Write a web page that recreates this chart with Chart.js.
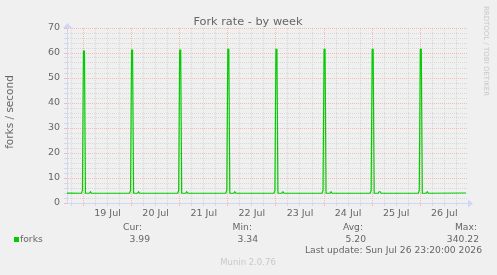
<!DOCTYPE html>
<html>
<head>
<meta charset="utf-8">
<script src="https://cdn.jsdelivr.net/npm/chart.js@4/dist/chart.umd.min.js"></script>
<style>
html,body{margin:0;padding:0;background:#f0f0f0;}
#wrap{width:497px;height:275px;position:relative;}
</style>
</head>
<body>
<div id="wrap"><canvas id="c" width="497" height="275"></canvas></div>
<script>
// Hours relative to 19 Jul 00:00
const hours = [
  -8.2,
  -1, -0.5, 0, 0.5, 1, 3, 3.5, 4,
  23, 23.5, 24, 24.5, 25, 27, 27.5, 28,
  47, 47.5, 48, 48.5, 49, 51, 51.5, 52,
  71, 71.5, 72, 72.5, 73, 75, 75.5, 76,
  95, 95.5, 96, 96.5, 97, 99, 99.5, 100,
  119, 119.5, 120, 120.5, 121, 123, 123.5, 124,
  143, 143.5, 144, 144.5, 145, 147, 147.5, 148, 148.5,
  167, 167.5, 168, 168.5, 169, 171, 171.5, 172,
  190.8
];
const forks = [
  3.95,
  3.9, 5.0, 60.8, 60.8, 3.9, 3.9, 4.5, 3.9,
  3.9, 5.0, 61.2, 61.2, 3.9, 3.9, 4.5, 3.9,
  3.9, 5.0, 61.2, 61.2, 3.9, 3.9, 4.5, 3.9,
  3.9, 5.0, 61.5, 61.5, 3.9, 3.9, 4.5, 3.9,
  3.9, 5.0, 61.5, 61.5, 3.9, 3.9, 4.5, 3.9,
  3.9, 5.0, 61.5, 61.5, 3.9, 3.9, 4.5, 3.9,
  3.9, 5.0, 61.5, 61.5, 3.9, 3.9, 4.5, 4.5, 3.9,
  3.9, 5.0, 61.5, 61.5, 3.9, 3.9, 4.5, 3.9,
  3.99
];
const dayLabels = ['19 Jul','20 Jul','21 Jul','22 Jul','23 Jul','24 Jul','25 Jul','26 Jul'];
const xTickHours = [-6,0,6,12,18,24,30,36,42,48,54,60,66,72,78,84,90,96,102,108,114,120,126,132,138,144,150,156,162,168,174,180,186];
const yTicks = [0,2,4,6,8,10,12,14,16,18,20,22,24,26,28,30,32,34,36,38,40,42,44,46,48,50,52,54,56,58,60,62,64,66,68,70];
const statNames = ['Cur:','Min:','Avg:','Max:'];
const statValues = ['3.99','3.34','5.20','340.22'];
const seriesName = 'forks';
const titleText = 'Fork rate - by week';
const yTitle = 'forks / second';
const lastUpdate = 'Last update: Sun Jul 26 23:20:00 2026';
const footer = 'Munin 2.0.76';
const watermark = 'RRDTOOL / TOBI OETIKER';

const FONT = '"DejaVu Sans", sans-serif';
const MINOR = 'rgba(192,192,192,0.5)';
const MAJOR = 'rgba(255,128,128,0.5)';
const AXIS = '#cfd6f8';

const deco = {
  id: 'deco',
  afterDraw(chart) {
    const ctx = chart.ctx;
    const a = chart.chartArea;
    ctx.save();
    // arrows
    ctx.fillStyle = AXIS;
    ctx.beginPath();
    ctx.moveTo(a.right, a.bottom - 3.5);
    ctx.lineTo(a.right + 5, a.bottom + 0.5);
    ctx.lineTo(a.right, a.bottom + 4.5);
    ctx.closePath(); ctx.fill();
    ctx.beginPath();
    ctx.moveTo(a.left - 4, a.top);
    ctx.lineTo(a.left + 0.5, a.top - 5);
    ctx.lineTo(a.left + 5, a.top);
    ctx.closePath(); ctx.fill();

    ctx.fillStyle = '#666666';
    ctx.textBaseline = 'middle';
    ctx.font = '11.3px ' + FONT;
    ctx.textAlign = 'center';
    ctx.fillText(titleText, 248, 22);

    ctx.save();
    ctx.translate(10, 112);
    ctx.rotate(-Math.PI / 2);
    ctx.font = '10.5px ' + FONT;
    ctx.fillText(yTitle, 0, 0);
    ctx.restore();

    // legend
    ctx.fillStyle = '#00cc00';
    ctx.fillRect(14, 237, 5, 5);
    ctx.fillStyle = '#666666';
    ctx.font = '9.2px ' + FONT;
    ctx.textAlign = 'left';
    ctx.fillText(seriesName, 20, 239.5);
    const nameRight = [142, 252, 363, 477];
    const valRight = [150, 258, 366, 479];
    ctx.textAlign = 'right';
    for (let i = 0; i < statNames.length; i++) {
      ctx.fillText(statNames[i], nameRight[i], 227.5);
      ctx.fillText(statValues[i], valRight[i], 239.5);
    }
    ctx.fillText(lastUpdate, 482, 251);

    ctx.fillStyle = '#c8c8c8';
    ctx.textAlign = 'center';
    ctx.font = '8.5px ' + FONT;
    ctx.fillText(footer, 248, 263);

    ctx.save();
    ctx.translate(485.5, 51);
    ctx.rotate(Math.PI / 2);
    ctx.font = '7px ' + FONT;
    ctx.fillText(watermark, 0, 0);
    ctx.restore();
    ctx.restore();
  }
};

new Chart(document.getElementById('c'), {
  type: 'line',
  data: {
    datasets: [{
      label: seriesName,
      data: hours.map((h, i) => ({x: h, y: forks[i]})),
      borderColor: '#00cc00',
      borderWidth: 1.2,
      pointRadius: 0,
      tension: 0,
      fill: false
    }]
  },
  options: {
    responsive: false,
    animation: false,
    devicePixelRatio: 1,
    layout: {padding: {left: 0, right: 29, top: 28, bottom: 52}},
    plugins: {legend: {display: false}, title: {display: false}, tooltip: {enabled: false}},
    scales: {
      x: {
        type: 'linear',
        min: -8.2,
        max: 191.8,
        afterBuildTicks(s) { s.ticks = xTickHours.map(v => ({value: v})); },
        afterFit(s) { s.height = 20; },
        ticks: {
          autoSkip: false,
          maxRotation: 0,
          padding: 2,
          color: '#666666',
          font: {family: FONT, size: 9.5},
          callback(v) {
            const d = (v - 12) / 24;
            return Number.isInteger(d) && dayLabels[d] ? dayLabels[d] : '';
          }
        },
        grid: {
          color(ctx) { return ctx.tick && ctx.tick.value % 24 === 0 ? MAJOR : MINOR; },
          lineWidth: 1,
          tickLength: 3,
          drawTicks: true
        },
        border: {display: true, color: AXIS, width: 1, dash: [1, 1]}
      },
      y: {
        min: 0,
        max: 70,
        afterBuildTicks(s) { s.ticks = yTicks.map(v => ({value: v})); },
        afterFit(s) { s.width = 67; },
        ticks: {
          autoSkip: false,
          padding: 4,
          color: '#666666',
          font: {family: FONT, size: 9.5},
          callback(v) { return v % 10 === 0 ? String(v) : ''; }
        },
        grid: {
          color(ctx) { return ctx.tick && ctx.tick.value % 10 === 0 ? MAJOR : MINOR; },
          lineWidth: 1,
          tickLength: 3
        },
        border: {display: true, color: AXIS, width: 1, dash: [1, 1]}
      }
    }
  },
  plugins: [deco]
});
</script>
</body>
</html>
